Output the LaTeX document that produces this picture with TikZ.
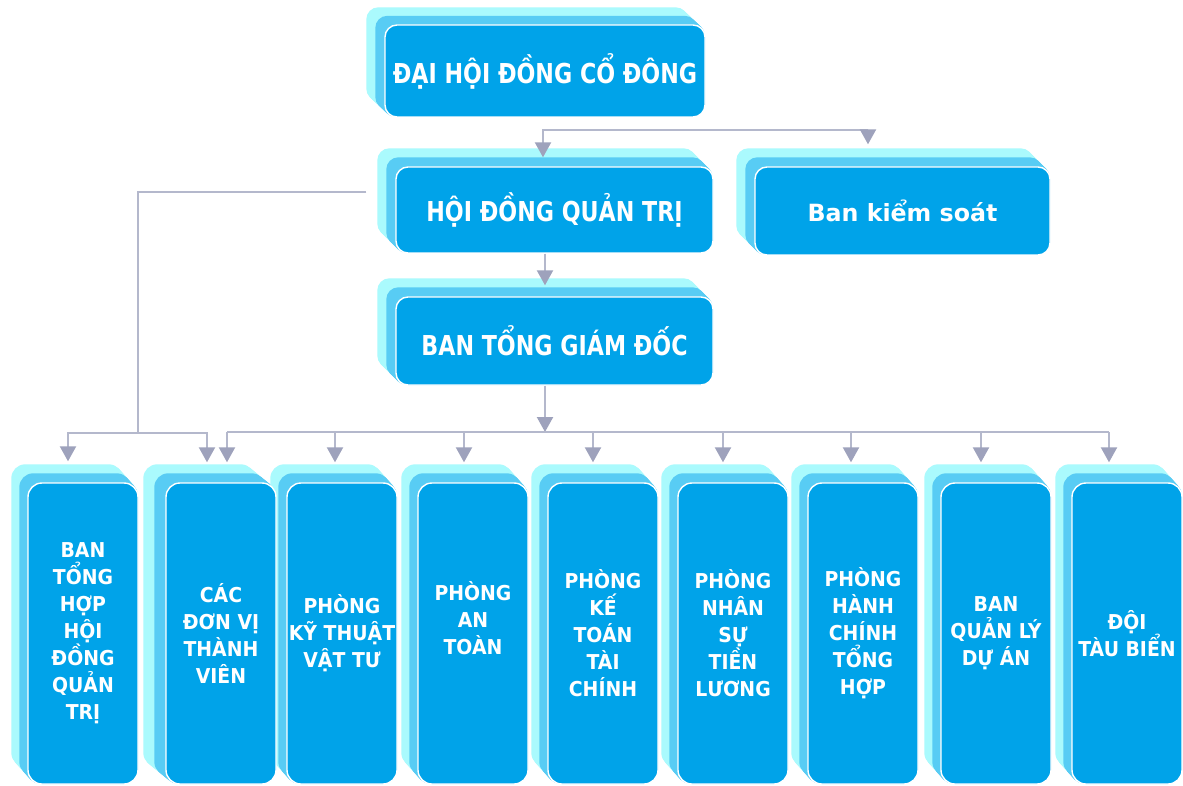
\documentclass[tikz,border=0pt]{standalone}
\usepackage{fontspec}
\setmainfont{DejaVu Sans}
\newfontfamily\titlefont{DejaVu Sans}[FakeStretch=0.81]
\newfontfamily\unitfont{DejaVu Sans}[FakeStretch=0.92]
\usetikzlibrary{arrows.meta,backgrounds,calc}
\pgfdeclarelayer{paper}
\pgfsetlayers{paper,background,main}

\definecolor{layerback}{RGB}{170,250,253}
\definecolor{layermid}{RGB}{88,204,244}
\definecolor{layerfront}{RGB}{0,163,233}
\definecolor{linkc}{RGB}{180,184,204}
\definecolor{tipc}{RGB}{158,162,188}

\tikzset{
  card/.style={fill=layerfront, draw=white, line width=1.4pt, text=white, align=center, inner sep=0pt},
  topcard/.style={card, rounded corners=12pt},
  titletext/.style={font=\titlefont\bfseries\fontsize{27.4}{30}\selectfont},
  unitcard/.style={card, rounded corners=14pt, minimum width=110pt, minimum height=301pt,
    font=\unitfont\bfseries\fontsize{20.5}{27}\selectfont},
  link/.style={draw=linkc, line width=2.2pt},
  arrowlink/.style={link, -{Triangle[length=15pt,width=16pt,color=tipc]}},
}

% two swept layers behind a card: light back layer, then the middle layer
\newcommand\stacklayers[4]{%
  \begin{scope}[on background layer]
    \foreach \t in {1.00,0.95,...,0.55}{
      \fill[layerback, rounded corners=#4]
        ($(#1.south west)+({-\t*#2},{-\t*#3})$) rectangle ($(#1.north east)+({-\t*#2},{-\t*#3})$);}
    \foreach \t in {0.50,0.45,...,0.04}{
      \fill[layermid, rounded corners=#4]
        ($(#1.south west)+({-\t*#2},{-\t*#3})$) rectangle ($(#1.north east)+({-\t*#2},{-\t*#3})$);}
  \end{scope}}

\begin{document}
\begin{tikzpicture}[x=1pt,y=-1pt]
\useasboundingbox (0,0) rectangle (1183,786);
\begin{pgfonlayer}{paper}
  \fill[white] (0,0) rectangle (1183,786);
\end{pgfonlayer}

% upper levels
\node[topcard, titletext, minimum width=320pt, minimum height=92pt] (dhdcd) at (545,71) {ĐẠI HỘI ĐỒNG CỔ ĐÔNG};
\stacklayers{dhdcd}{18}{17}{12pt}
\node[topcard, titletext, minimum width=317pt, minimum height=86pt] (hdqt) at (554.5,210) {HỘI ĐỒNG QUẢN TRỊ};
\stacklayers{hdqt}{18}{18}{12pt}
\node[topcard, font=\bfseries\fontsize{23.7}{28}\selectfont, minimum width=295pt, minimum height=88pt] (bks) at (902.5,211) {Ban kiểm soát};
\stacklayers{bks}{18}{18}{12pt}
\node[topcard, titletext, minimum width=317pt, minimum height=88pt] (tgd) at (554.5,341) {BAN TỔNG GIÁM ĐỐC};
\stacklayers{tgd}{18}{18}{12pt}

% units (the invisible rule lifts the short text of u4 a little)
\foreach \n/\x/\dx/\txt in {
  u1/83/16/{BAN\\TỔNG\\HỢP\\HỘI\\ĐỒNG\\QUẢN\\TRỊ},
  u2/221/22/{CÁC\\ĐƠN VỊ\\THÀNH\\VIÊN},
  u3/342/16/{PHÒNG\\KỸ THUẬT\\VẬT TƯ},
  u4/473/16/{PHÒNG\\AN\\TOÀN\rule[-31pt]{0pt}{31pt}},
  u5/603/16/{PHÒNG\\KẾ\\TOÁN\\TÀI\\CHÍNH},
  u6/733/16/{PHÒNG\\NHÂN\\SỰ\\TIỀN\\LƯƠNG},
  u7/863/16/{PHÒNG\\HÀNH\\CHÍNH\\TỔNG\\HỢP},
  u8/996/16/{BAN\\QUẢN LÝ\\DỰ ÁN},
  u9/1127/16/{ĐỘI\\TÀU BIỂN}}{
  \node[unitcard] (\n) at (\x,633.5) {\txt};
  \stacklayers{\n}{\dx}{18}{14pt}
}

% links between the upper levels
\coordinate (topL) at (543,130);
\coordinate (topR) at (868,130);
\draw[arrowlink] (topR) -- (topL) -- ($(topL |- hdqt.north)+(0,-9)$);
\draw[arrowlink] (topL) -- (topR) -- ($(topR |- bks.north)+(0,-22)$);
\coordinate (spine) at (545,432);
\draw[arrowlink] (spine |- hdqt.south) -- ($(spine |- tgd.north)+(0,-11)$);
\draw[arrowlink] (spine |- tgd.south) -- (spine);

% board to its secretariat and members
\coordinate (side) at (138,433);
\draw[link] ($(hdqt.west)+(-29,-18)$) -| (side);
\draw[arrowlink] (side) -| ($(68,0 |- u1.north)+(0,-21)$);
\draw[arrowlink] (side) -| ($(207,0 |- u2.north)+(0,-20)$);

% directorate to departments
\coordinate (busL) at (227,432);
\coordinate (busR) at (1109,432);
\draw[link] (busL) -- (busR);
\foreach \x/\n in {227/u2,335/u3,464/u4,593/u5,723/u6,851/u7,981/u8,1109/u9}{
  \draw[arrowlink] (\x,432) -- ($(\x,0 |- \n.north)+(0,-20)$);
}
\end{tikzpicture}
\end{document}
